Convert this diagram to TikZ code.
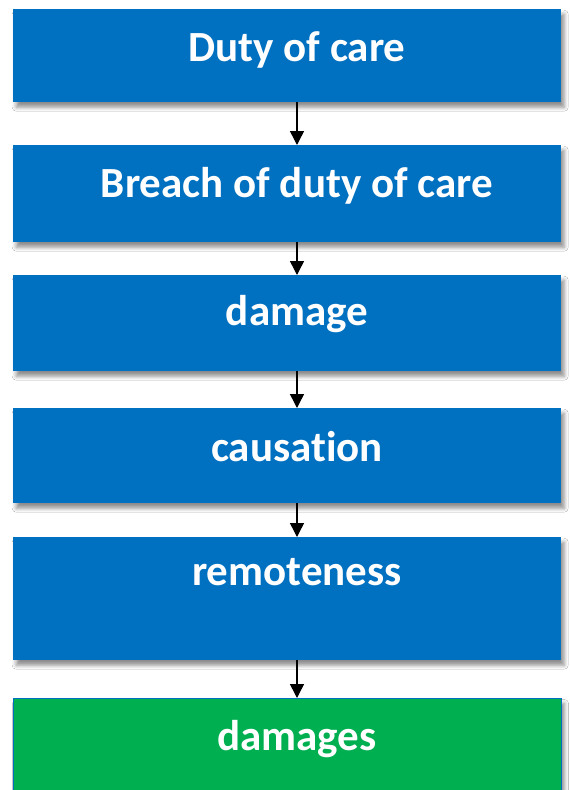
\documentclass[tikz,border=0pt]{standalone}
\usepackage{fontspec}
\setmainfont{Carlito}[Ligatures=NoCommon]
\usetikzlibrary{arrows.meta,shadows.blur}
\definecolor{stepblue}{HTML}{0070C0}
\definecolor{stepgreen}{HTML}{00B050}
\tikzset{
    stepbox/.style={rectangle, fill=stepblue, draw=none, anchor=north west, minimum width=548pt, inner sep=0pt,
        blur shadow={shadow xshift=3pt, shadow yshift=-5pt, shadow blur radius=4pt, shadow opacity=45}},
    steptext/.style={anchor=base, text=white, inner sep=0pt, font=\fontsize{43}{51}\selectfont\bfseries},
    flow/.style={draw=black, line width=1.5pt, -{Triangle[width=14pt,length=14pt]}}
}
\begin{document}
\begin{tikzpicture}[x=1pt,y=1pt]
                \useasboundingbox (0,0) rectangle (570,-790);
                \fill[white] (0,0) rectangle (570,-790);

                \node [stepbox, minimum height=93pt] (b1) at (13,-9) {};
                \node [stepbox, minimum height=97pt] (b2) at (13,-145) {};
                \node [stepbox, minimum height=96pt] (b3) at (13,-275) {};
                \node [stepbox, minimum height=95pt] (b4) at (13,-408) {};
                \node [stepbox, minimum height=123pt] (b5) at (13,-537) {};
                \node [stepbox, minimum height=104pt, fill=stepgreen, draw=stepblue, line width=1pt] (b6) at (13,-698) {};

                \node [steptext] (t1) at (297,-61) {Duty of care};
                \node [steptext] (t2) at (297,-197) {Breach of duty of care};
                \node [steptext] (t3) at (297,-325) {damage};
                \node [steptext] (t4) at (297,-461) {causation};
                \node [steptext] (t5) at (297,-585) {remoteness};
                \node [steptext] (t6) at (297,-750) {damages};

                \draw[flow] (b1.south -| t1) -- (b2.north -| t1);
                \draw[flow] (b2.south -| t1) -- (b3.north -| t1);
                \draw[flow] (b3.south -| t1) -- (b4.north -| t1);
                \draw[flow] (b4.south -| t1) -- (b5.north -| t1);
                \draw[flow] (b5.south -| t1) -- (b6.north -| t1);
            \end{tikzpicture}
\end{document}
